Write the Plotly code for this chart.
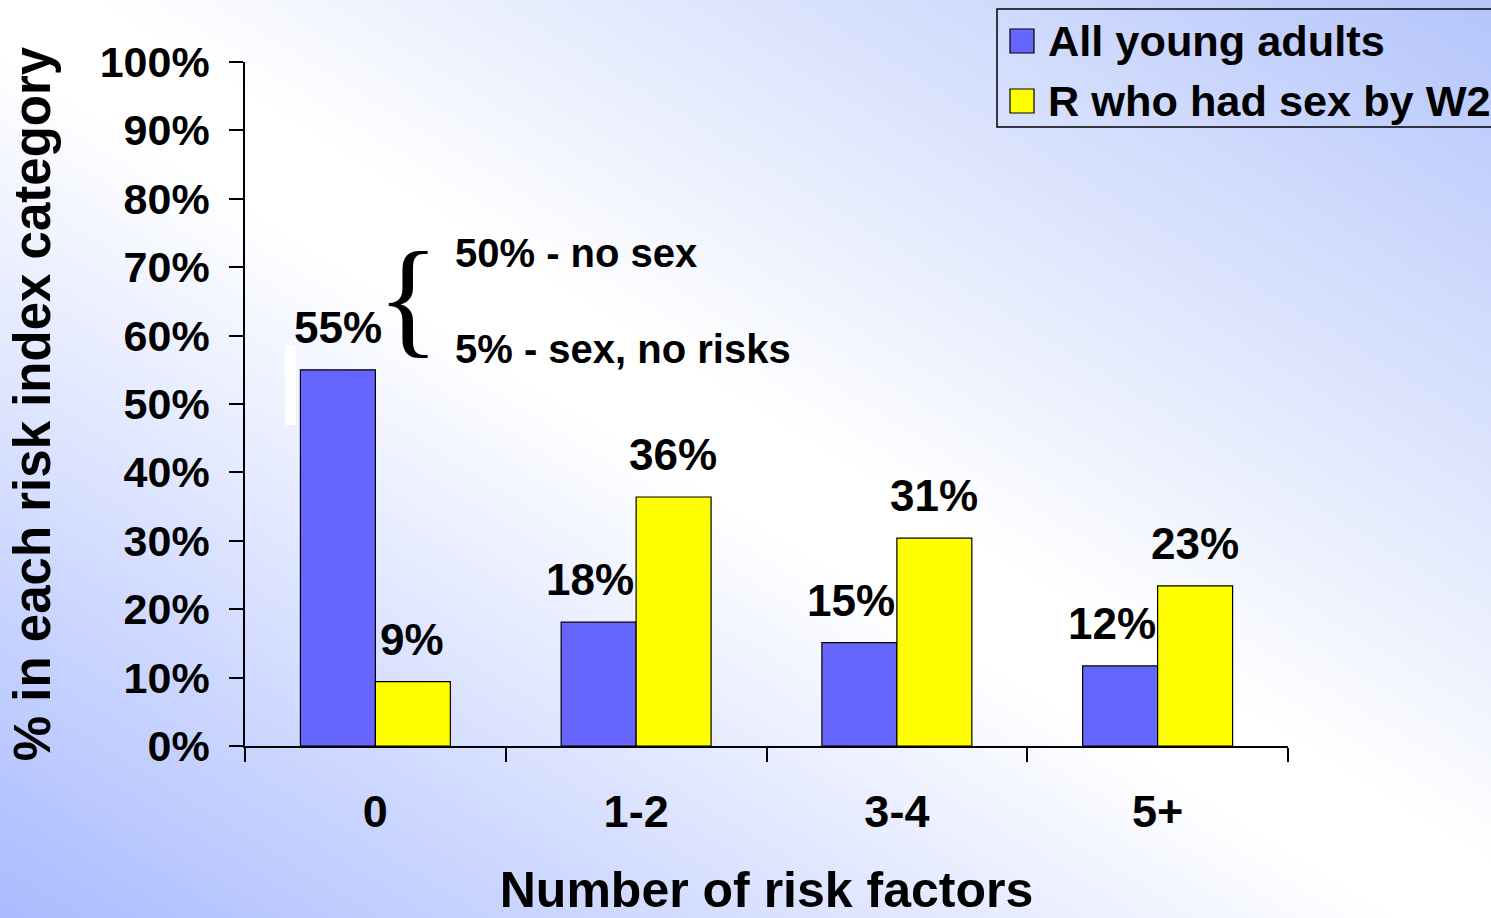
import base64
import plotly.graph_objects as go

categories = ["0", "1-2", "3-4", "5+"]
all_young = [55.0, 18.1, 15.1, 11.7]
had_sex = [9.4, 36.4, 30.4, 23.4]
all_labels = ["55%", "18%", "15%", "12%"]
sex_labels = ["9%", "36%", "31%", "23%"]
series_names = ["All young adults", "R who had sex by W2"]
y_tickvals = [0, 10, 20, 30, 40, 50, 60, 70, 80, 90, 100]
y_ticktext = ["0%", "10%", "20%", "30%", "40%", "50%", "60%", "70%", "80%", "90%", "100%"]

W, H = 1491, 918
L, R, T, B = 245, 1288, 62, 746
PW, PH = R - L, B - T

def px(x):
    return (x - L) / PW

def py(y):
    return (B - y) / PH

BLUE = "#6666ff"
YELLOW = "#ffff00"
FONT = "Liberation Sans"

svg = f'''<svg xmlns="http://www.w3.org/2000/svg" width="{W}" height="{H}" viewBox="0 0 {W} {H}" preserveAspectRatio="none">
<defs><linearGradient id="g" x1="0" y1="1" x2="1" y2="0">
<stop offset="0" stop-color="#a9bbff"/>
<stop offset="0.47" stop-color="#ffffff"/>
<stop offset="0.53" stop-color="#ffffff"/>
<stop offset="1" stop-color="#b4c5fb"/>
</linearGradient></defs>
<rect x="0" y="0" width="{W}" height="{H}" fill="url(#g)"/>
</svg>'''
src = "data:image/svg+xml;base64," + base64.b64encode(svg.encode()).decode()

fig = go.Figure()
fig.add_trace(go.Bar(x=categories, y=all_young, name=series_names[0],
                     marker=dict(color=BLUE, line=dict(color="black", width=1.2)),
                     showlegend=False))
fig.add_trace(go.Bar(x=categories, y=had_sex, name=series_names[1],
                     marker=dict(color=YELLOW, line=dict(color="black", width=1.2)),
                     showlegend=False))

annotations = []
lab_font = dict(family=FONT, size=44, color="black", weight="bold")
for i, c in enumerate(categories):
    annotations.append(dict(x=c, y=all_young[i], text=all_labels[i], xref="x", yref="y",
                            xanchor="center", yanchor="bottom", showarrow=False,
                            xshift=-37 - (0 if i == 0 else 9), yshift=16, font=lab_font))
    annotations.append(dict(x=c, y=had_sex[i], text=sex_labels[i], xref="x", yref="y",
                            xanchor="center", yanchor="bottom", showarrow=False,
                            xshift=37, yshift=16, font=lab_font))

# brace and breakdown notes
annotations.append(dict(x=px(408), y=py(297), xref="paper", yref="paper", text="{",
                        showarrow=False, xanchor="center", yanchor="middle",
                        font=dict(family="Liberation Serif", size=130, color="black")))
note_font = dict(family=FONT, size=40, color="black", weight="bold")
annotations.append(dict(x=px(453), y=py(253), xref="paper", yref="paper", text="50% - no sex",
                        showarrow=False, xanchor="left", yanchor="middle", font=note_font))
annotations.append(dict(x=px(453), y=py(349), xref="paper", yref="paper", text="5% - sex, no risks",
                        showarrow=False, xanchor="left", yanchor="middle", font=note_font))

# legend (drawn manually)
shapes = [
    dict(type="rect", xref="paper", yref="paper", x0=px(997), x1=px(1495), y0=py(9), y1=py(127),
         line=dict(color="black", width=1.5), fillcolor="rgba(0,0,0,0)"),
    dict(type="rect", xref="paper", yref="paper", x0=px(1010), x1=px(1034), y0=py(29), y1=py(53),
         line=dict(color="black", width=1.2), fillcolor=BLUE),
    dict(type="rect", xref="paper", yref="paper", x0=px(1010), x1=px(1034), y0=py(89), y1=py(113),
         line=dict(color="black", width=1.2), fillcolor=YELLOW),
    dict(type="rect", xref="paper", yref="paper", x0=px(285), x1=px(296), y0=py(345), y1=py(425),
         line=dict(width=0), fillcolor="white", layer="below"),
]
for name, yc in zip(series_names, [41, 101]):
    annotations.append(dict(x=px(1046), y=py(yc), xref="paper", yref="paper", text=name,
                            showarrow=False, xanchor="left", yanchor="middle",
                            font=dict(family=FONT, size=43.3, color="black", weight="bold")))

fig.update_layout(
    width=W, height=H,
    margin=dict(l=L, r=W - R, t=T, b=H - B, pad=0, autoexpand=False),
    paper_bgcolor="white", plot_bgcolor="rgba(0,0,0,0)",
    barmode="group", bargap=0.425, bargroupgap=0,
    showlegend=False,
    annotations=annotations, shapes=shapes,
    images=[dict(source=src, xref="paper", yref="paper", x=px(0), y=py(0),
                 sizex=W / PW, sizey=H / PH, xanchor="left", yanchor="top",
                 sizing="stretch", layer="below")],
    xaxis=dict(showline=True, linecolor="black", linewidth=1.5, ticks="outside",
               tickson="boundaries", ticklen=14, tickwidth=1.5, tickcolor="black",
               showgrid=False, zeroline=False, ticklabelstandoff=25, automargin=False,
               tickfont=dict(family=FONT, size=45, color="black", weight="bold"),
               title=dict(text="Number of risk factors", standoff=46,
                          font=dict(family=FONT, size=50, color="black", weight="bold"))),
    yaxis=dict(range=[0, 100], showline=True, linecolor="black", linewidth=1.5,
               ticks="outside", ticklen=14, tickwidth=1.5, tickcolor="black",
               tickvals=y_tickvals, ticktext=y_ticktext, showgrid=False, zeroline=False,
               ticklabelstandoff=11, automargin=False,
               tickfont=dict(family=FONT, size=43, color="black", weight="bold"),
               title=dict(text="% in each risk index category", standoff=33,
                          font=dict(family=FONT, size=51, color="black", weight="bold"))),
)

fig.write_html("out.html", config={"displayModeBar": False},
               post_script="document.body.style.margin='0';document.body.style.overflow='hidden';")
